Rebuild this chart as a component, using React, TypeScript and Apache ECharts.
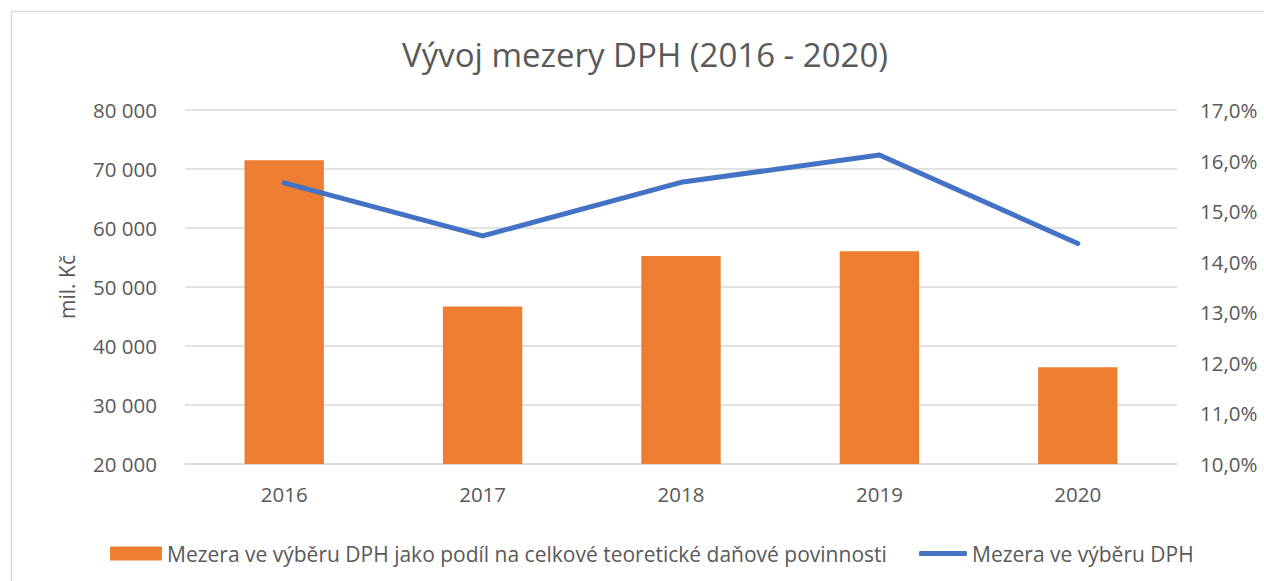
import React, { useEffect, useRef } from "react";
import * as echarts from "echarts";

const categories = ["2016", "2017", "2018", "2019", "2020"];
const gapValues = [71500, 46700, 55250, 56050, 36400];
const gapShare = [15.56, 14.51, 15.57, 16.11, 14.36];
const barName = "Mezera ve výběru DPH jako podíl na celkové teoretické daňové povinnosti";
const lineName = "Mezera ve výběru DPH";
const titleText = "Vývoj mezery DPH (2016 - 2020)";
const leftAxisName = "mil. Kč";

const FONT = "'Open Sans', sans-serif";
const GREY = "#595959";
const AX = 20.5;

export default function App() {
  const ref = useRef<HTMLDivElement>(null);
  useEffect(() => {
    if (!ref.current) return;
    const chart = echarts.init(ref.current, undefined, { renderer: "svg" });
    chart.setOption({
      animation: false,
      textStyle: { fontFamily: FONT },
      title: {
        text: titleText,
        left: 397,
        top: 33,
        textStyle: { fontFamily: FONT, fontSize: 33, fontWeight: "normal", color: GREY },
      },
      graphic: [
        {
          type: "rect",
          shape: { x: 11.5, y: 11.5, width: 1400, height: 700 },
          style: { fill: "none", stroke: "#d9d9d9", lineWidth: 1.5 },
          silent: true,
        },
      ],
      grid: { left: 185, right: 87, top: 110, bottom: 117 },
      legend: [
        {
          data: [{ name: barName, icon: "rect" }],
          left: 105,
          top: 538,
          itemWidth: 52,
          itemHeight: 14,
          itemGap: 5,
          textStyle: { fontFamily: FONT, fontSize: 21, color: GREY },
        },
        {
          data: [{ name: lineName, icon: "roundRect" }],
          left: 914,
          top: 538,
          itemWidth: 48,
          itemHeight: 5,
          textStyle: { fontFamily: FONT, fontSize: 21, color: GREY },
        },
      ],
      xAxis: {
        type: "category",
        data: categories,
        axisLine: { lineStyle: { color: "#d9d9d9", width: 1.5 } },
        axisTick: { show: false },
        axisLabel: { color: GREY, fontSize: AX, fontFamily: FONT, margin: 19 },
      },
      yAxis: [
        {
          type: "value",
          min: 20000,
          max: 80000,
          interval: 10000,
          name: leftAxisName,
          nameLocation: "middle",
          nameGap: 108,
          nameRotate: 90,
          nameTextStyle: { color: GREY, fontSize: 21, fontFamily: FONT },
          axisLine: { show: false },
          axisTick: { show: false },
          splitLine: { lineStyle: { color: "#d9d9d9", width: 1.5 } },
          axisLabel: {
            color: GREY,
            fontSize: AX,
            fontFamily: FONT,
            margin: 28,
            formatter: (v: number) => String(v).replace(/\B(?=(\d{3})+(?!\d))/g, " "),
          },
        },
        {
          type: "value",
          min: 10,
          max: 17,
          interval: 1,
          position: "right",
          axisLine: { show: false },
          axisTick: { show: false },
          splitLine: { show: false },
          axisLabel: {
            color: GREY,
            fontSize: AX,
            fontFamily: FONT,
            margin: 23,
            formatter: (v: number) => v.toFixed(1).replace(".", ",") + "%",
          },
        },
      ],
      series: [
        {
          name: barName,
          type: "bar",
          data: gapValues,
          barWidth: "40%",
          itemStyle: { color: "#ED7D31" },
          yAxisIndex: 0,
        },
        {
          name: lineName,
          type: "line",
          data: gapShare,
          yAxisIndex: 1,
          symbol: "none",
          showSymbol: false,
          lineStyle: { color: "#4472C4", width: 5, cap: "round", join: "round" },
          itemStyle: { color: "#4472C4" },
        },
      ],
    });
    return () => chart.dispose();
  }, []);
  return (
    <div
      ref={ref}
      style={{ position: "fixed", left: 0, top: 0, width: 1264, height: 581, background: "#fff" }}
    />
  );
}
